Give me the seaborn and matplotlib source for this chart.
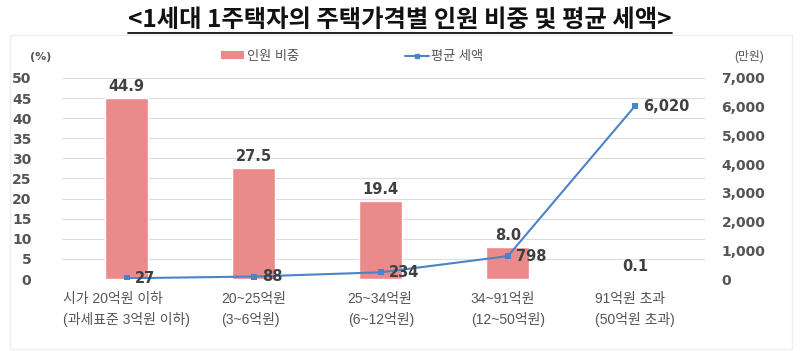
import pandas as pd
import seaborn as sns
import matplotlib.pyplot as plt
from matplotlib.patches import Patch, Rectangle
from matplotlib.lines import Line2D

# 데이터
categories = ["시가 20억원 이하\n(과세표준 3억원 이하)", "20~25억원\n(3~6억원)",
              "25~34억원\n(6~12억원)", "34~91억원\n(12~50억원)", "91억원 초과\n(50억원 초과)"]
share = [44.9, 27.5, 19.4, 8.0, 0.1]          # 인원 비중 (%)
avg_tax = [27, 88, 234, 798, 6020]            # 평균 세액 (만원)
share_labels = ["44.9", "27.5", "19.4", "8.0", "0.1"]
tax_labels = ["27", "88", "234", "798", "6,020"]

df = pd.DataFrame({"cat": categories, "share": share, "tax": avg_tax, "pos": range(5)})

sns.set_style("white")
plt.rcParams['font.family'] = ['Liberation Sans', 'Noto Sans CJK KR']

bar_color = "#EA8A8A"
line_color = "#4A84C6"
txt = "#404040"
num_family = ["DejaVu Sans", "Noto Sans CJK KR"]
num_font = dict(fontsize=10.5, fontweight="bold", color=txt, family=num_family)

fig = plt.figure(figsize=(8, 3.51), dpi=100)
ax = fig.add_axes([0.0775, 0.205, 0.8035, 0.573])

sns.barplot(data=df, x="cat", y="share", color=bar_color, width=0.34,
            saturation=1, ax=ax, zorder=2)
ax.set_ylim(0, 50)
ax.set_yticks(range(0, 51, 5))
ax.set_xlim(-0.51, 4.55)
ax.grid(axis="y", color="#dcdcdc", linewidth=0.8, zorder=0)
ax.set_axisbelow(True)
for s in ax.spines.values():
    s.set_visible(False)
ax.set_xlabel("")
ax.set_ylabel("")
ax.tick_params(axis="y", labelsize=10, colors="#555555", length=0, pad=22)
ax.tick_params(axis="x", labelsize=10, colors="#555555", length=0, pad=9)
for lab in ax.get_xticklabels():
    lab.set_multialignment("left")
    lab.set_linespacing(1.5)
for lab in ax.get_yticklabels():
    lab.set_fontweight("bold")
    lab.set_family(num_family)

for i, v in enumerate(share):
    ax.annotate(share_labels[i], (i, v), xytext=(0, 3), textcoords="offset points",
                ha="center", va="bottom", **num_font)

ax2 = ax.twinx()
sns.lineplot(data=df, x="pos", y="tax", color=line_color, linewidth=1.5,
             marker="s", markersize=5, markeredgewidth=0, ax=ax2, zorder=3)
ax2.set_ylim(0, 7000)
ax2.set_yticks(range(0, 7001, 1000))
ax2.set_yticklabels([f"{t:,}" for t in range(0, 7001, 1000)])
ax2.set_xlim(-0.51, 4.55)
for s in ax2.spines.values():
    s.set_visible(False)
ax2.set_ylabel("")
ax2.tick_params(axis="y", labelsize=10, colors="#555555", length=0, pad=12)
for lab in ax2.get_yticklabels():
    lab.set_fontweight("bold")
    lab.set_family(num_family)

for i, v in enumerate(avg_tax):
    ax2.annotate(tax_labels[i], (i, v), xytext=(6, 0), textcoords="offset points",
                 ha="left", va="center", **num_font)

# 단위 표시
fig.text(0.038, 0.838, "(%)", fontsize=8, fontweight="bold", color="#555555",
         ha="left", va="center", family=num_family)
fig.text(0.918, 0.838, "(만원)", fontsize=8.5, color="#555555", ha="left", va="center")

# 범례
handles = [Patch(facecolor=bar_color, edgecolor="none", label="인원 비중"),
           Line2D([0], [0], color=line_color, linewidth=1.5, marker="s", markersize=3.5,
                  label="평균 세액")]
fig.legend(handles=handles, loc="center", bbox_to_anchor=(0.44, 0.838), ncol=2,
           frameon=False, fontsize=9.5, columnspacing=8, handlelength=1.8,
           handleheight=0.5, handletextpad=0.2, labelcolor="#555555")

# 차트 테두리
fig.add_artist(Rectangle((0.012, 0.005), 0.978, 0.895, transform=fig.transFigure,
                         fill=False, edgecolor="#eeeeee", linewidth=1))

# 제목 + 밑줄
title = fig.text(0.5, 0.943, "<1세대 1주택자의 주택가격별 인원 비중 및 평균 세액>",
                 ha="center", va="center", fontsize=17.5, fontweight="bold",
                 color="#111111", family=["Noto Sans CJK KR", "DejaVu Sans"])
fig.canvas.draw()
bb = title.get_window_extent().transformed(fig.transFigure.inverted())
fig.add_artist(Line2D([bb.x0, bb.x1], [bb.y0 - 0.004, bb.y0 - 0.004],
                      transform=fig.transFigure, color="#111111", linewidth=1.3))

fig.savefig("out.png", dpi=100)
